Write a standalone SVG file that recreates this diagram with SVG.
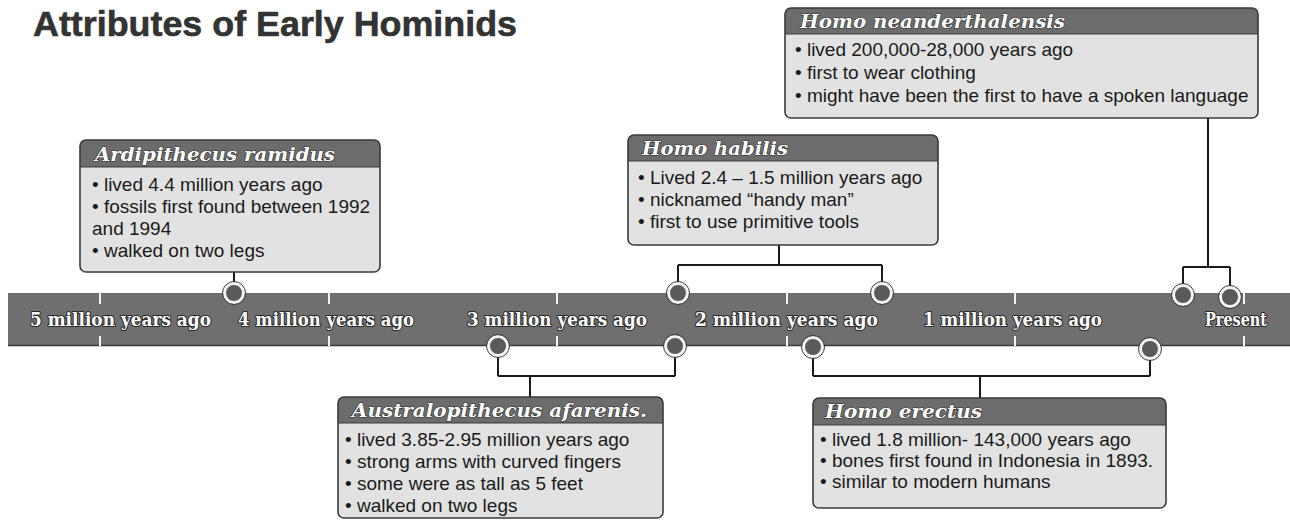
<svg xmlns="http://www.w3.org/2000/svg" width="1290" height="529" viewBox="0 0 1290 529">
<defs>
<style>
.title{font-family:"Liberation Sans",Arial,sans-serif;font-weight:bold;font-size:35px;fill:#333333;stroke:#333333;stroke-width:0.6}
.band{fill:#6f6f6f}
.tick{stroke:#f2f2f2;stroke-width:2}
.tl{font-family:"DejaVu Serif","Liberation Serif",serif;font-weight:bold;font-size:19px;fill:#ffffff;stroke:#2a2a2a;stroke-width:2.2;paint-order:stroke;stroke-linejoin:round}
.body{fill:#e2e2e2}
.head{fill:#6c6c6c}
.frame{fill:none;stroke:#3a3a3a;stroke-width:1.6}
.sep{stroke:#3a3a3a;stroke-width:1.2}
.hd{font-family:"DejaVu Serif","Liberation Serif",serif;font-style:italic;font-weight:bold;font-size:19px;fill:#ffffff;stroke:#333333;stroke-width:1.2;paint-order:stroke}
.tx{font-family:"Liberation Sans",Arial,sans-serif;font-size:19px;fill:#1a1a1a}
.con{fill:none;stroke:#1a1a1a;stroke-width:2}
.dot{fill:#5a5a5a;stroke:#f4f4f4;stroke-width:3}
.dotr{fill:none;stroke:#3a3a3a;stroke-width:1}
</style>
</defs>
<rect width="1290" height="529" fill="#ffffff"/>
<text class="title" x="33" y="36" textLength="484" lengthAdjust="spacingAndGlyphs">Attributes of Early Hominids</text>

<g id="timeline">
<rect class="band" x="8" y="293" width="1282" height="53"/>
<line x1="8" y1="345.5" x2="1290" y2="345.5" stroke="#3a3a3a" stroke-width="1.5"/>
<g>
<line class="tick" x1="100" y1="293" x2="100" y2="304"/><line class="tick" x1="100" y1="336" x2="100" y2="346"/>
<line class="tick" x1="329" y1="293" x2="329" y2="304"/><line class="tick" x1="329" y1="336" x2="329" y2="346"/>
<line class="tick" x1="557" y1="293" x2="557" y2="304"/><line class="tick" x1="557" y1="336" x2="557" y2="346"/>
<line class="tick" x1="787" y1="293" x2="787" y2="304"/><line class="tick" x1="787" y1="336" x2="787" y2="346"/>
<line class="tick" x1="1015" y1="293" x2="1015" y2="304"/><line class="tick" x1="1015" y1="336" x2="1015" y2="346"/>
<line class="tick" x1="1244" y1="293" x2="1244" y2="304"/><line class="tick" x1="1244" y1="336" x2="1244" y2="346"/>
</g>
<text class="tl" x="30" y="326" textLength="181" lengthAdjust="spacingAndGlyphs">5 million years ago</text>
<text class="tl" x="238" y="326" textLength="176" lengthAdjust="spacingAndGlyphs">4 million years ago</text>
<text class="tl" x="467" y="326" textLength="180" lengthAdjust="spacingAndGlyphs">3 million years ago</text>
<text class="tl" x="695" y="326" textLength="183" lengthAdjust="spacingAndGlyphs">2 million years ago</text>
<text class="tl" x="923" y="326" textLength="179" lengthAdjust="spacingAndGlyphs">1 million years ago</text>
<text class="tl" x="1205" y="326" textLength="62" lengthAdjust="spacingAndGlyphs">Present</text>
</g>

<g id="connectors">
<path class="con" d="M234 272 V284"/>
<path class="con" d="M779 245 V265 M678 265 H882 M678 265 V284 M882 265 V284"/>
<path class="con" d="M1208 118 V267 M1183 267 H1230 M1183 267 V286 M1230 267 V288"/>
<path class="con" d="M498 356 V376 M675 356 V376 M498 376 H675 M530 376 V397"/>
<path class="con" d="M813 356 V376 M1150 358 V376 M813 376 H1150 M980 376 V398"/>
<g>
<circle class="dot" cx="234" cy="293" r="9.5"/><circle class="dotr" cx="234" cy="293" r="11.5"/>
<circle class="dot" cx="678" cy="293" r="9.5"/><circle class="dotr" cx="678" cy="293" r="11.5"/>
<circle class="dot" cx="882" cy="293" r="9.5"/><circle class="dotr" cx="882" cy="293" r="11.5"/>
<circle class="dot" cx="1183" cy="295" r="9.5"/><circle class="dotr" cx="1183" cy="295" r="11.5"/>
<circle class="dot" cx="1230" cy="297" r="9.5"/><circle class="dotr" cx="1230" cy="297" r="11.5"/>
<circle class="dot" cx="498" cy="346" r="9.5"/><circle class="dotr" cx="498" cy="346" r="11.5"/>
<circle class="dot" cx="675" cy="346" r="9.5"/><circle class="dotr" cx="675" cy="346" r="11.5"/>
<circle class="dot" cx="813" cy="347" r="9.5"/><circle class="dotr" cx="813" cy="347" r="11.5"/>
<circle class="dot" cx="1150" cy="349" r="9.5"/><circle class="dotr" cx="1150" cy="349" r="11.5"/>
</g>
</g>

<g id="ardipithecus">
<rect class="body" x="80" y="140" width="300" height="132" rx="6"/>
<path class="head" d="M80 167 V146 Q80 140 86 140 H374 Q380 140 380 146 V167 Z"/>
<line class="sep" x1="80" y1="167" x2="380" y2="167"/>
<rect class="frame" x="80" y="140" width="300" height="132" rx="6"/>
<text class="hd" x="95" y="161" textLength="240" lengthAdjust="spacingAndGlyphs">Ardipithecus ramidus</text>
<text class="tx" x="92" y="191">• lived 4.4 million years ago</text>
<text class="tx" x="92" y="213">• fossils first found between 1992</text>
<text class="tx" x="92" y="235">and 1994</text>
<text class="tx" x="92" y="257">• walked on two legs</text>
</g>

<g id="habilis">
<rect class="body" x="628" y="135" width="310" height="110" rx="6"/>
<path class="head" d="M628 161 V141 Q628 135 634 135 H932 Q938 135 938 141 V161 Z"/>
<line class="sep" x1="628" y1="161" x2="938" y2="161"/>
<rect class="frame" x="628" y="135" width="310" height="110" rx="6"/>
<text class="hd" x="642" y="155" textLength="146" lengthAdjust="spacingAndGlyphs">Homo habilis</text>
<text class="tx" x="638" y="184">• Lived 2.4 – 1.5 million years ago</text>
<text class="tx" x="638" y="206">• nicknamed “handy man”</text>
<text class="tx" x="638" y="228">• first to use primitive tools</text>
</g>

<g id="neanderthalensis">
<rect class="body" x="785" y="8" width="473" height="110" rx="6"/>
<path class="head" d="M785 34 V14 Q785 8 791 8 H1252 Q1258 8 1258 14 V34 Z"/>
<line class="sep" x1="785" y1="34" x2="1258" y2="34"/>
<rect class="frame" x="785" y="8" width="473" height="110" rx="6"/>
<text class="hd" x="800" y="28" textLength="265" lengthAdjust="spacingAndGlyphs">Homo neanderthalensis</text>
<text class="tx" x="795" y="56">• lived 200,000-28,000 years ago</text>
<text class="tx" x="795" y="79">• first to wear clothing</text>
<text class="tx" x="795" y="102">• might have been the first to have a spoken language</text>
</g>

<g id="afarensis">
<rect class="body" x="338" y="397" width="325" height="121" rx="6"/>
<path class="head" d="M338 423 V403 Q338 397 344 397 H657 Q663 397 663 403 V423 Z"/>
<line class="sep" x1="338" y1="423" x2="663" y2="423"/>
<rect class="frame" x="338" y="397" width="325" height="121" rx="6"/>
<text class="hd" x="352" y="417" textLength="295" lengthAdjust="spacingAndGlyphs">Australopithecus afarenis.</text>
<text class="tx" x="345" y="446">• lived 3.85-2.95 million years ago</text>
<text class="tx" x="345" y="468">• strong arms with curved fingers</text>
<text class="tx" x="345" y="490">• some were as tall as 5 feet</text>
<text class="tx" x="345" y="512">• walked on two legs</text>
</g>

<g id="erectus">
<rect class="body" x="813" y="398" width="353" height="110" rx="6"/>
<path class="head" d="M813 425 V404 Q813 398 819 398 H1160 Q1166 398 1166 404 V425 Z"/>
<line class="sep" x1="813" y1="425" x2="1166" y2="425"/>
<rect class="frame" x="813" y="398" width="353" height="110" rx="6"/>
<text class="hd" x="825" y="418" textLength="157" lengthAdjust="spacingAndGlyphs">Homo erectus</text>
<text class="tx" x="820" y="446">• lived 1.8 million- 143,000 years ago</text>
<text class="tx" x="820" y="467">• bones first found in Indonesia in 1893.</text>
<text class="tx" x="820" y="488">• similar to modern humans</text>
</g>
</svg>
